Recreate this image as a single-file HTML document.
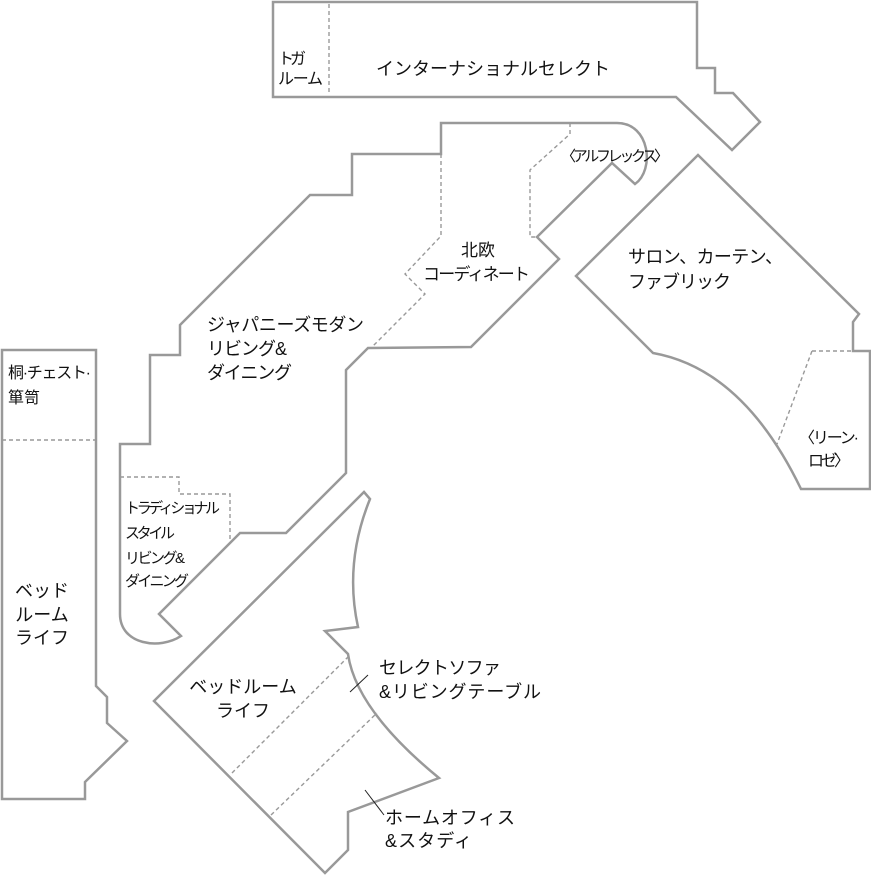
<!DOCTYPE html>
<html><head><meta charset="utf-8"><style>
html,body{margin:0;padding:0;background:#fff;}
svg{display:block;}
text{font-family:"Liberation Sans","Noto Sans CJK JP",sans-serif;fill:#111;}
</style></head><body>
<svg width="871" height="875" viewBox="0 0 871 875" xmlns="http://www.w3.org/2000/svg">
<g fill="#fff" stroke="#999" stroke-width="2.5" stroke-linejoin="miter">
<path d="M273,2 L697,2 L697,68 L715,68 L715,93 L733,93 L760,122 L732,150 L676,97 L273,97 Z"/>
<path d="M441,123 L617,123 C650,123 655,170 635,184 L612,163 L537,237 L559,259 L471,347 L368,348 L346,370 L346,473 L286,533 L240,533 L159,614 L181,636 C160,650 120,645 120,614 L120,444 L150,444 L150,355 L180,355 L180,325 L310,195 L352,195 L352,154 L441,154 Z"/>
<path d="M698,155 L859,314 L853,322 L853,351 L870,351 L870,489 L801,489 Q743,369 653,353 L576,276 Z"/>
<path d="M2,350 L96,350 L96,686 L107,697 L107,723 L127,741 L85,782 L85,799 L2,799 Z"/>
<path d="M364,492 L370,499 Q344,563 358,627 L325,631 L348,654 Q356,710 439,778 L348,812 L348,850 L325,873 L154,701 Z"/>
</g>
<g fill="none" stroke="#999" stroke-width="1.4" stroke-dasharray="4,3">
<path d="M329,4 L329,95"/>
<path d="M441,154 L441,236 L405,274 L425,294 L373,346"/>
<path d="M570,123 L570,134 L530,170 L530,237 L537,237"/>
<path d="M120,477 L179,477 L179,494 L230,494 L230,539"/>
<path d="M812,351 L853,351 M812,351 L777,444"/>
<path d="M2,440 L96,440"/>
<path d="M232,773 L348,657"/>
<path d="M271,815 L377,713"/>
</g>
<g stroke="#222" stroke-width="1">
<line x1="350" y1="692" x2="368" y2="675"/>
<line x1="365" y1="790" x2="384" y2="815"/>
</g>
<g font-size="16">
<text x="278" y="64" font-size="16" textLength="28">トガ</text>
<text x="278" y="84" font-size="16" textLength="45">ルーム</text>
<text x="376" y="75" font-size="18" textLength="234">インターナショナルセレクト</text>
<text x="561" y="161" font-size="15" textLength="108">〈アルフレックス〉</text>
<text x="461" y="256" font-size="17">北欧</text>
<text x="423" y="280" font-size="17" textLength="107">コーディネート</text>
<text x="207" y="331" font-size="18" textLength="157">ジャパニーズモダン</text>
<text x="207" y="355" font-size="18" textLength="80">リビング&amp;</text>
<text x="207" y="379" font-size="18" textLength="85">ダイニング</text>
<text x="628" y="263" font-size="18" textLength="155">サロン、カーテン、</text>
<text x="628" y="288" font-size="18" textLength="103">ファブリック</text>
<text x="8" y="378" font-size="16" textLength="83">桐·チェスト·</text>
<text x="8" y="403" font-size="16">箪笥</text>
<text x="125" y="513" font-size="15" textLength="95">トラディショナル</text>
<text x="125" y="538" font-size="15" textLength="50">スタイル</text>
<text x="125" y="563" font-size="15" textLength="60">リビング&amp;</text>
<text x="125" y="586" font-size="15" textLength="64">ダイニング</text>
<text x="42" y="597" font-size="18" text-anchor="middle">ベッド</text>
<text x="42" y="621" font-size="18" text-anchor="middle">ルーム</text>
<text x="42" y="644" font-size="18" text-anchor="middle">ライフ</text>
<text x="243" y="693" font-size="18" text-anchor="middle">ベッドルーム</text>
<text x="243" y="717" font-size="18" text-anchor="middle">ライフ</text>
<text x="379" y="674" font-size="18" textLength="122">セレクトソファ</text>
<text x="379" y="698" font-size="18" textLength="162">&amp;リビングテーブル</text>
<text x="385" y="824" font-size="18" textLength="130">ホームオフィス</text>
<text x="385" y="847" font-size="18" textLength="87">&amp;スタディ</text>
<text x="799" y="443" font-size="16" textLength="60">〈リーン·</text>
<text x="808" y="466" font-size="16" textLength="42">ロゼ〉</text>
</g>
</svg>
</body></html>
